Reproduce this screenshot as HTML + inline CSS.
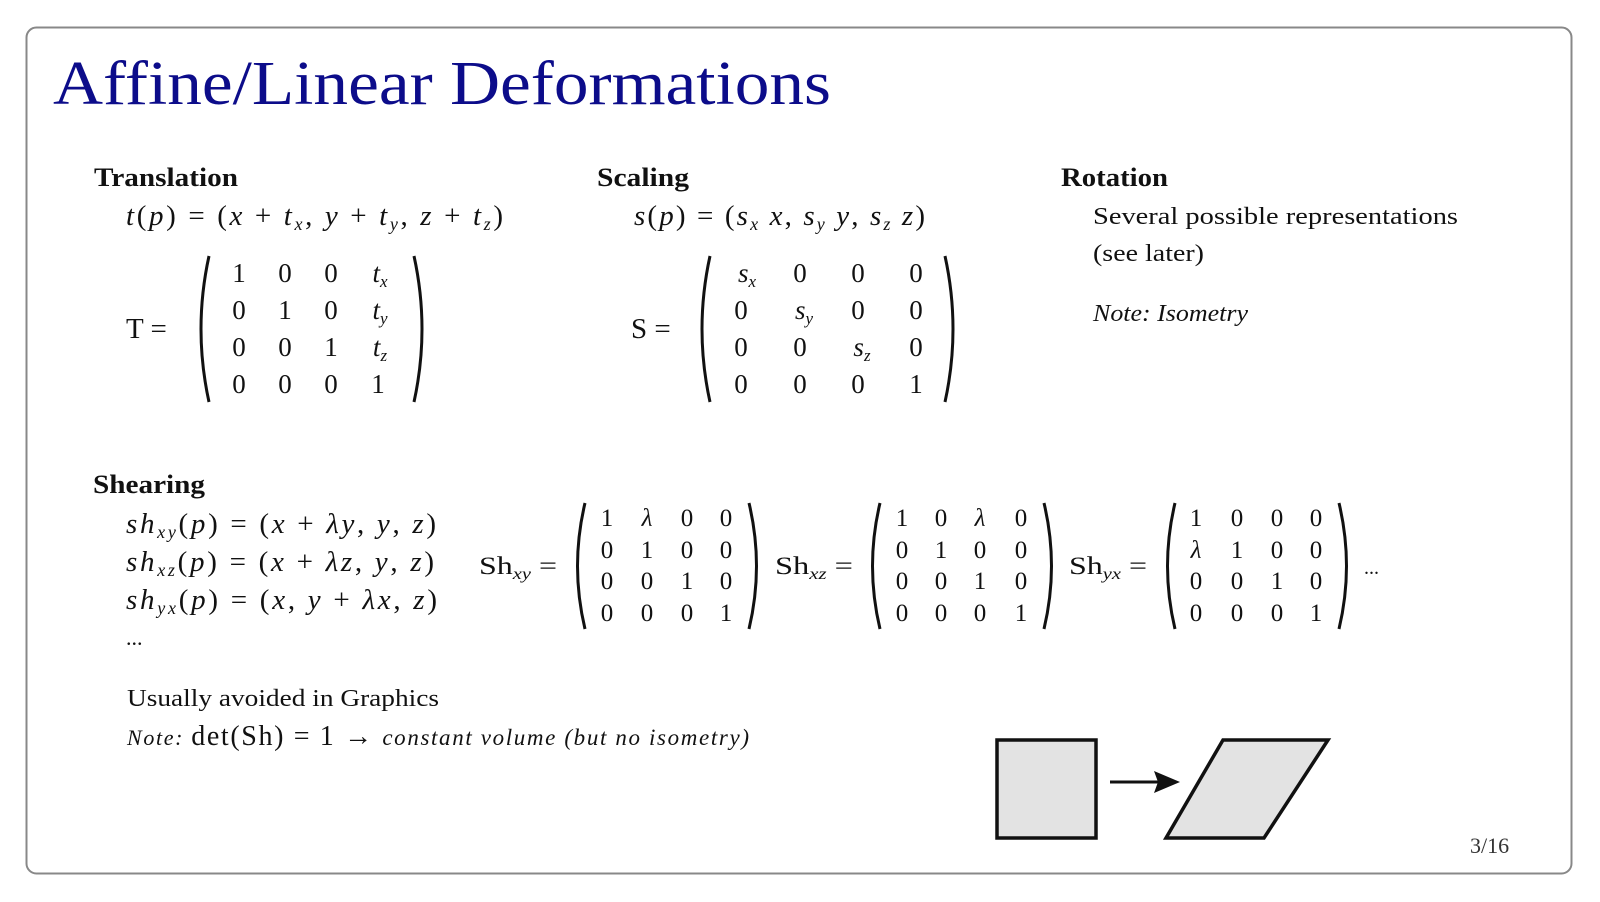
<!DOCTYPE html>
<html><head><meta charset="utf-8"><style>
html,body{margin:0;padding:0;background:#fff;}
svg{display:block;}
text{font-family:"Liberation Serif","DejaVu Serif",serif;fill:#111;}
.m{font-style:italic;}
</style></head><body>
<svg width="1600" height="902" viewBox="0 0 1600 902" xmlns="http://www.w3.org/2000/svg">
<rect x="26.5" y="27.5" width="1545" height="846" rx="10" fill="#fff" stroke="#888" stroke-width="2"/>
<text x="53" y="104" font-size="62" style="fill:#0c0c8a" textLength="778" lengthAdjust="spacingAndGlyphs">Affine/Linear Deformations</text>

<!-- Translation -->
<text x="94" y="186" font-size="26" font-weight="bold" textLength="144" lengthAdjust="spacingAndGlyphs">Translation</text>
<text x="126" y="225" font-size="29" textLength="377"><tspan class="m">t</tspan>(<tspan class="m">p</tspan>) = (<tspan class="m">x</tspan> + <tspan class="m">t</tspan><tspan class="m" font-size="18" dy="5">x</tspan><tspan dy="-5">, </tspan><tspan class="m">y</tspan> + <tspan class="m">t</tspan><tspan class="m" font-size="18" dy="5">y</tspan><tspan dy="-5">, </tspan><tspan class="m">z</tspan> + <tspan class="m">t</tspan><tspan class="m" font-size="18" dy="5">z</tspan><tspan dy="-5">)</tspan></text>
<text x="126" y="338" font-size="29">T =</text>
<g font-size="27" text-anchor="middle">
<text x="239" y="282">1</text><text x="285" y="282">0</text><text x="331" y="282">0</text><text x="380" y="282" class="m">t<tspan font-size="17" dy="5">x</tspan></text>
<text x="239" y="319">0</text><text x="285" y="319">1</text><text x="331" y="319">0</text><text x="380" y="319" class="m">t<tspan font-size="17" dy="5">y</tspan></text>
<text x="239" y="356">0</text><text x="285" y="356">0</text><text x="331" y="356">1</text><text x="380" y="356" class="m">t<tspan font-size="17" dy="5">z</tspan></text>
<text x="239" y="393">0</text><text x="285" y="393">0</text><text x="331" y="393">0</text><text x="378" y="393">1</text>
</g>
<path d="M209 256 Q193 329 209 402" fill="none" stroke="#111" stroke-width="3"/>
<path d="M414 256 Q430 329 414 402" fill="none" stroke="#111" stroke-width="3"/>

<!-- Scaling -->
<text x="597" y="186" font-size="26" font-weight="bold" textLength="92" lengthAdjust="spacingAndGlyphs">Scaling</text>
<text x="634" y="225" font-size="29" textLength="291"><tspan class="m">s</tspan>(<tspan class="m">p</tspan>) = (<tspan class="m">s</tspan><tspan class="m" font-size="18" dy="5">x</tspan><tspan dy="-5" class="m"> x</tspan>, <tspan class="m">s</tspan><tspan class="m" font-size="18" dy="5">y</tspan><tspan dy="-5" class="m"> y</tspan>, <tspan class="m">s</tspan><tspan class="m" font-size="18" dy="5">z</tspan><tspan dy="-5" class="m"> z</tspan>)</text>
<text x="631" y="338" font-size="29">S =</text>
<g font-size="27" text-anchor="middle">
<text x="747" y="282" class="m">s<tspan font-size="17" dy="5">x</tspan></text><text x="800" y="282">0</text><text x="858" y="282">0</text><text x="916" y="282">0</text>
<text x="741" y="319">0</text><text x="804" y="319" class="m">s<tspan font-size="17" dy="5">y</tspan></text><text x="858" y="319">0</text><text x="916" y="319">0</text>
<text x="741" y="356">0</text><text x="800" y="356">0</text><text x="862" y="356" class="m">s<tspan font-size="17" dy="5">z</tspan></text><text x="916" y="356">0</text>
<text x="741" y="393">0</text><text x="800" y="393">0</text><text x="858" y="393">0</text><text x="916" y="393">1</text>
</g>
<path d="M710 256 Q694 329 710 402" fill="none" stroke="#111" stroke-width="3"/>
<path d="M945 256 Q961 329 945 402" fill="none" stroke="#111" stroke-width="3"/>

<!-- Rotation -->
<text x="1061" y="186" font-size="26" font-weight="bold" textLength="107" lengthAdjust="spacingAndGlyphs">Rotation</text>
<text x="1093" y="224" font-size="24" textLength="365" lengthAdjust="spacingAndGlyphs">Several possible representations</text>
<text x="1093" y="261" font-size="24" textLength="111" lengthAdjust="spacingAndGlyphs">(see later)</text>
<text x="1093" y="321" font-size="24" class="m" textLength="155" lengthAdjust="spacingAndGlyphs">Note: Isometry</text>

<!-- Shearing -->
<text x="93" y="493" font-size="26" font-weight="bold" textLength="112" lengthAdjust="spacingAndGlyphs">Shearing</text>
<g font-size="29">
<text x="126" y="533" textLength="310"><tspan class="m">sh</tspan><tspan class="m" font-size="18" dy="5">xy</tspan><tspan dy="-5">(</tspan><tspan class="m">p</tspan>) = (<tspan class="m">x</tspan> + <tspan class="m">λy</tspan>, <tspan class="m">y</tspan>, <tspan class="m">z</tspan>)</text>
<text x="126" y="571" textLength="308"><tspan class="m">sh</tspan><tspan class="m" font-size="18" dy="5">xz</tspan><tspan dy="-5">(</tspan><tspan class="m">p</tspan>) = (<tspan class="m">x</tspan> + <tspan class="m">λz</tspan>, <tspan class="m">y</tspan>, <tspan class="m">z</tspan>)</text>
<text x="126" y="609" textLength="311"><tspan class="m">sh</tspan><tspan class="m" font-size="18" dy="5">yx</tspan><tspan dy="-5">(</tspan><tspan class="m">p</tspan>) = (<tspan class="m">x</tspan>, <tspan class="m">y</tspan> + <tspan class="m">λx</tspan>, <tspan class="m">z</tspan>)</text>
<text x="126" y="645" font-size="22">...</text>
</g>

<g font-size="25">
<text x="479" y="574" textLength="78" lengthAdjust="spacingAndGlyphs">Sh<tspan class="m" font-size="16" dy="5">xy</tspan><tspan dy="-5"> =</tspan></text>
<text x="775" y="574" textLength="78" lengthAdjust="spacingAndGlyphs">Sh<tspan class="m" font-size="16" dy="5">xz</tspan><tspan dy="-5"> =</tspan></text>
<text x="1069" y="574" textLength="78" lengthAdjust="spacingAndGlyphs">Sh<tspan class="m" font-size="16" dy="5">yx</tspan><tspan dy="-5"> =</tspan></text>
<text x="1364" y="574" font-size="20">...</text>
</g>
<g font-size="25" text-anchor="middle">
<text x="607" y="526">1</text><text x="647" y="526" class="m">λ</text><text x="687" y="526">0</text><text x="726" y="526">0</text>
<text x="607" y="558">0</text><text x="647" y="558">1</text><text x="687" y="558">0</text><text x="726" y="558">0</text>
<text x="607" y="589">0</text><text x="647" y="589">0</text><text x="687" y="589">1</text><text x="726" y="589">0</text>
<text x="607" y="621">0</text><text x="647" y="621">0</text><text x="687" y="621">0</text><text x="726" y="621">1</text>

<text x="902" y="526">1</text><text x="941" y="526">0</text><text x="980" y="526" class="m">λ</text><text x="1021" y="526">0</text>
<text x="902" y="558">0</text><text x="941" y="558">1</text><text x="980" y="558">0</text><text x="1021" y="558">0</text>
<text x="902" y="589">0</text><text x="941" y="589">0</text><text x="980" y="589">1</text><text x="1021" y="589">0</text>
<text x="902" y="621">0</text><text x="941" y="621">0</text><text x="980" y="621">0</text><text x="1021" y="621">1</text>

<text x="1196" y="526">1</text><text x="1237" y="526">0</text><text x="1277" y="526">0</text><text x="1316" y="526">0</text>
<text x="1196" y="558" class="m">λ</text><text x="1237" y="558">1</text><text x="1277" y="558">0</text><text x="1316" y="558">0</text>
<text x="1196" y="589">0</text><text x="1237" y="589">0</text><text x="1277" y="589">1</text><text x="1316" y="589">0</text>
<text x="1196" y="621">0</text><text x="1237" y="621">0</text><text x="1277" y="621">0</text><text x="1316" y="621">1</text>
</g>
<g fill="none" stroke="#111" stroke-width="3">
<path d="M585 503 Q570 566 585 629"/><path d="M749 503 Q764 566 749 629"/>
<path d="M880 503 Q865 566 880 629"/><path d="M1044 503 Q1059 566 1044 629"/>
<path d="M1175 503 Q1160 566 1175 629"/><path d="M1339 503 Q1354 566 1339 629"/>
</g>

<text x="127" y="706" font-size="24" textLength="312" lengthAdjust="spacingAndGlyphs">Usually avoided in Graphics</text>
<text x="127" y="745" font-size="24" textLength="622"><tspan class="m" font-size="22">Note: </tspan><tspan font-size="28">det(Sh) = 1 → </tspan><tspan class="m" font-size="23">constant volume (but no isometry)</tspan></text>

<!-- figure -->
<rect x="997" y="740" width="99" height="98" fill="#e3e3e3" stroke="#111" stroke-width="3.5"/>
<line x1="1110" y1="782" x2="1160" y2="782" stroke="#111" stroke-width="3"/>
<path d="M1180 782 L1154 771 L1158 782 L1154 793 Z" fill="#111"/>
<path d="M1223 740 L1328 740 L1264 838 L1166 838 Z" fill="#e3e3e3" stroke="#111" stroke-width="3.5"/>

<text x="1470" y="853" font-size="22" style="fill:#333">3/16</text>
</svg>
</body></html>
